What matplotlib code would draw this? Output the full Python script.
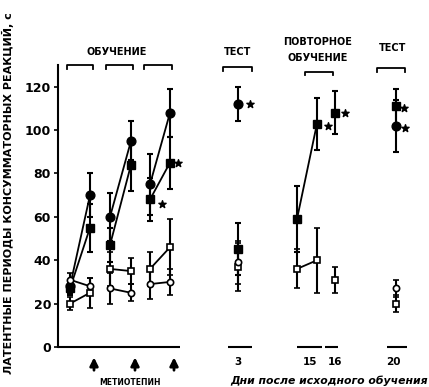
import matplotlib
matplotlib.use("Agg")
import matplotlib.pyplot as plt

plt.rcParams['font.family'] = ['DejaVu Sans']

# x positions of each measurement (training sessions: before / after drug)
x_train = [(70, 90), (110, 131), (150, 170)]
x_day3 = 238
x_day15 = (297, 317)
x_day16 = 335
x_day20 = 396

# filled circles
fc_train = [(28, 70), (60, 95), (75, 108)]
fc_train_err = [(3, 10), (11, 9), (14, 11)]
fc_day3, fc_day3_err = 112, 8
fc_day20, fc_day20_err = 102, 12

# filled squares
fs_train = [(27, 55), (47, 84), (68, 85)]
fs_train_err = [(3, 11), (8, 12), (10, 12)]
fs_day3, fs_day3_err = 45, 12
fs_day15, fs_day15_err = (59, 103), (15, 12)
fs_day16, fs_day16_err = 108, 10
fs_day20, fs_day20_err = 111, 8

# open squares
os_train = [(20, 25), (36, 35), (36, 46)]
os_train_err = [(3, 7), (8, 6), (8, 13)]
os_day3, os_day3_err = 37, 11
os_day15, os_day15_err = (36, 40), (9, 15)
os_day16, os_day16_err = 31, 6
os_day20, os_day20_err = 20, 4

# open circles
oc_train = [(31, 28), (27, 25), (29, 30)]
oc_train_err = [(3, 4), (7, 4), (7, 6)]
oc_day3, oc_day3_err = 39, 10
oc_day20, oc_day20_err = 27, 4

# significance marks (x, y)
stars = [(162, 66), (178, 85), (250, 112), (328, 102), (345, 108), (404, 110), (405, 101)]

day_labels = ["3", "15", "16", "20"]
day_label_x = [238, 310, 335, 393]

fig = plt.figure(figsize=(4.29, 3.87), dpi=100)
ax = fig.add_axes([58 / 429, 40 / 387, 362 / 429, 282 / 387])
ax.set_xlim(58, 420)
ax.set_ylim(0, 130)

styles = {
    'fc': dict(marker='o', ms=6.3, mfc='black', mec='black'),
    'fs': dict(marker='s', ms=5.8, mfc='black', mec='black'),
    'os': dict(marker='s', ms=4.5, mfc='white', mec='black', mew=1.2),
    'oc': dict(marker='o', ms=4.5, mfc='white', mec='black', mew=1.2),
}


def draw(xs, ys, errs, st):
    ax.errorbar(xs, ys, yerr=errs, color='black', lw=1.3, elinewidth=1.5,
                capsize=2.5, capthick=1.5, zorder=3, **styles[st])


for i in range(3):
    draw(x_train[i], fc_train[i], fc_train_err[i], 'fc')
    draw(x_train[i], fs_train[i], fs_train_err[i], 'fs')
    draw(x_train[i], os_train[i], os_train_err[i], 'os')
    draw(x_train[i], oc_train[i], oc_train_err[i], 'oc')

draw([x_day3], [fc_day3], [fc_day3_err], 'fc')
draw([x_day3], [fs_day3], [fs_day3_err], 'fs')
draw([x_day3], [os_day3], [os_day3_err], 'os')
draw([x_day3], [oc_day3], [oc_day3_err], 'oc')

draw(x_day15, fs_day15, fs_day15_err, 'fs')
draw(x_day15, os_day15, os_day15_err, 'os')
draw([x_day16], [fs_day16], [fs_day16_err], 'fs')
draw([x_day16], [os_day16], [os_day16_err], 'os')

draw([x_day20], [fs_day20], [fs_day20_err], 'fs')
draw([x_day20], [fc_day20], [fc_day20_err], 'fc')
draw([x_day20], [oc_day20], [oc_day20_err], 'oc')
draw([x_day20], [os_day20], [os_day20_err], 'os')

ax.scatter([s[0] for s in stars], [s[1] for s in stars], marker='*', s=30,
           color='black', zorder=4)

# axes look
for sp in ['top', 'right', 'bottom']:
    ax.spines[sp].set_visible(False)
ax.spines['left'].set_linewidth(1.5)
ax.set_yticks([0, 20, 40, 60, 80, 100, 120])
ax.tick_params(axis='y', length=3, width=1.2, labelsize=9, pad=2)
for lab in ax.get_yticklabels():
    lab.set_fontweight('bold')
ax.set_xticks([])

# baseline pieces
for a, b in [(58, 180), (228, 252), (297, 322), (325, 338), (387, 407)]:
    ax.plot([a, b], [0, 0], color='black', lw=1.5, clip_on=False,
            solid_capstyle='butt')

for x, t in zip(day_label_x, day_labels):
    ax.text(x, -7, t, ha='center', va='center', fontsize=7.5, fontweight='bold')
ax.text(329, -15.5, "Дни после исходного обучения", ha='center', va='center',
        fontsize=7.8, fontweight='bold', style='italic')

# drug arrows
for x in [x_train[0][1], x_train[1][1], x_train[2][1]]:
    ax.annotate('', xy=(x + 4, -3.5), xytext=(x + 4, -12),
                arrowprops=dict(arrowstyle='-|>', color='black', lw=2,
                                mutation_scale=12), annotation_clip=False)
ax.text(130, -16.5, "МЕТИОТЕПИН", ha='center', va='center', fontsize=5.5,
        fontweight='bold')


# brackets
def bracket(a, b, y):
    ax.plot([a, a, b, b], [y - 1.8, y, y, y - 1.8], color='black', lw=1.3,
            clip_on=False)


for a, b in [(67, 93), (106, 133), (144, 172)]:
    bracket(a, b, 130)
bracket(223, 252, 129)
bracket(305, 333, 127)
bracket(377, 405, 128.5)

ax.text(117, 136, "ОБУЧЕНИЕ", ha='center', va='center', fontsize=7, fontweight='bold')
ax.text(238, 136, "ТЕСТ", ha='center', va='center', fontsize=7, fontweight='bold')
ax.text(318, 140.5, "ПОВТОРНОЕ", ha='center', va='center', fontsize=7, fontweight='bold')
ax.text(318, 133, "ОБУЧЕНИЕ", ha='center', va='center', fontsize=7, fontweight='bold')
ax.text(393, 138, "ТЕСТ", ha='center', va='center', fontsize=7, fontweight='bold')

fig.text(8 / 429, 0.5, "ЛАТЕНТНЫЕ ПЕРИОДЫ КОНСУММАТОРНЫХ РЕАКЦИЙ, с",
         rotation=90, ha='center', va='center', fontsize=8, fontweight='bold')

fig.savefig('out.png', dpi=100)
